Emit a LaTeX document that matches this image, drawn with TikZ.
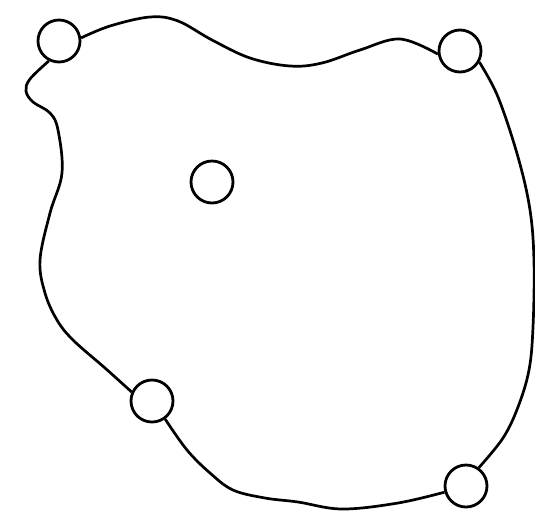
\documentclass[tikz,border=0pt]{standalone}
\begin{document}
\begin{tikzpicture}[x=1pt,y=-1pt,
  hole/.style={draw,circle,line width=2.8pt,minimum size=42pt,inner sep=0pt},
  wire/.style={line width=2.7pt,line join=round}]
\useasboundingbox (0,0) rectangle (535,523);
\node[hole] (tl) at (59,41) {};
\node[hole] (tr) at (460,51) {};
\node[hole] (mid) at (212,182) {};
\node[hole] (bl) at (152,401) {};
\node[hole] (br) at (466,486) {};
\draw[wire] plot[smooth,tension=0.6] coordinates {(tl.8) (110,26) (150,17) (178,21) (212,40) (250,58) (290,66) (322,63) (360,50) (400,39) (tr.188)};
\draw[wire] plot[smooth,tension=0.6] coordinates {(tr.-30) (498,97) (518,157) (530,210) (534,262) (533,327) (529,370) (518,407) (503,438) (br.55)};
\draw[wire] plot[smooth,tension=0.6] coordinates {(br.196) (398,503) (342,509) (298,502) (265,498) (233,490) (210,473) (187,450) (bl.-54)};
\draw[wire] plot[smooth,tension=0.6] coordinates {(bl.156) (105,368) (73,340) (57,320) (45,293) (40,260) (50,213) (62,173) (58,130) (50,113) (33,102) (26,91) (30,79) (tl.243)};
\end{tikzpicture}
\end{document}
